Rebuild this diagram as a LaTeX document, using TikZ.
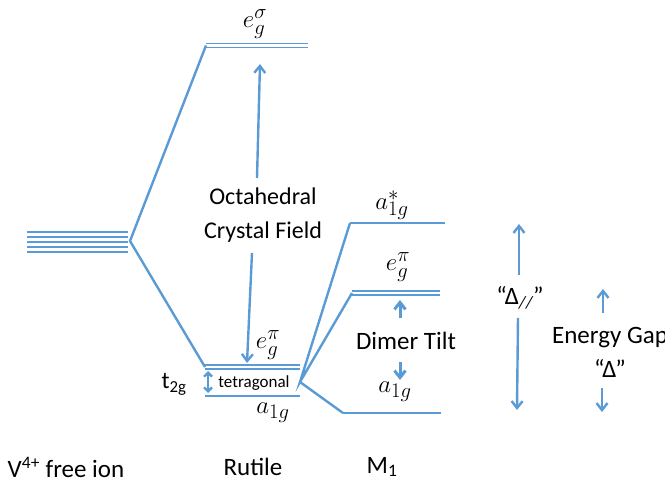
\documentclass[tikz,border=0pt]{standalone}
\usepackage{fontspec}
\setmainfont{Carlito}
\usetikzlibrary{arrows.meta, positioning, calc}
\definecolor{lvlBlue}{HTML}{5B9BD5}

\begin{document}
\begin{tikzpicture}[x=1pt, y=-1pt,
    lvl/.style={lvlBlue, line width=2.4pt},
    thinlvl/.style={lvlBlue, line width=1.7pt},
    arr/.style={lvlBlue, line width=2.4pt, -{Straight Barb[length=7pt, width=11pt]}},
    lbl/.style={font=\fontsize{25}{34}\selectfont, align=center, inner sep=1pt},
    mlbl/.style={font=\fontsize{29}{30}\selectfont, inner sep=1pt},
  ]
    \useasboundingbox (0,0) rectangle (665,489);

    % free ion levels
    \foreach \yy in {232,237,242,247,252}
      \draw[thinlvl] (27,\yy) -- (128,\yy);
    \coordinate (ion) at (130,241);

    % rutile levels
    \coordinate (egsL) at (206,45.5);
    \coordinate (egsR) at (308,45.5);
    \coordinate (egpL) at (205,367);
    \coordinate (egpR) at (300,367);
    \coordinate (a1L) at (205,396);
    \coordinate (a1R) at (300,396);
    \coordinate (rut) at (300,382);
    \draw[thinlvl] ($(egsL)+(0,-1.9)$) -- ($(egsR)+(0,-1.9)$);
    \draw[thinlvl] ($(egsL)+(0,1.9)$) -- ($(egsR)+(0,1.9)$);
    \draw[thinlvl] ($(egpL)+(0,-1.9)$) -- ($(egpR)+(0,-1.9)$);
    \draw[thinlvl] ($(egpL)+(0,1.9)$) -- ($(egpR)+(0,1.9)$);
    \draw[lvl] (a1L) -- (a1R);
    \draw[lvl] (egsL) -- (ion) -- (egpL);

    % M1 levels
    \coordinate (asL) at (350,223);
    \coordinate (asR) at (445,223);
    \coordinate (mpL) at (352,293);
    \coordinate (mpR) at (440,293);
    \coordinate (maL) at (343,413);
    \coordinate (maR) at (441,413);
    \draw[lvl] (asL) -- (asR);
    \draw[thinlvl] ($(mpL)+(0,-1.9)$) -- ($(mpR)+(0,-1.9)$);
    \draw[thinlvl] ($(mpL)+(0,1.9)$) -- ($(mpR)+(0,1.9)$);
    \draw[lvl] (maL) -- (maR);
    \draw[lvl] (asL) -- (rut) -- (mpL);
    \draw[lvl] (rut) -- (maL);

    % level labels
    \node[mlbl] (egs) at (255,24) {$e_g^{\sigma}$};
    \node[mlbl] (egp) at (268,345) {$e_g^{\pi}$};
    \node[mlbl] (a1) at (273,413) {$a_{1g}$};
    \node[font=\fontsize{24}{26}\selectfont, inner sep=1pt] (t2g) at (174,384) {t\textsubscript{2g}};
    \node[font=\fontsize{17}{19}\selectfont, inner sep=1pt] (tet) at (254,383) {tetragonal};
    \node[mlbl] (as) at (392,205) {$a_{1g}^{*}$};
    \node[mlbl] (mp) at (398,267) {$e_g^{\pi}$};
    \node[mlbl] (ma) at (395,392) {$a_{1g}$};

    % octahedral crystal field
    \node[lbl, font=\fontsize{24}{34}\selectfont] (ocf) at (263,215) {Octahedral\\Crystal Field};
    \draw[arr] (257,178) -- (260,64);
    \draw[arr] (252,253) -- (247,363);
    \draw[lvl, {Straight Barb[length=4pt, width=8pt]}-{Straight Barb[length=4pt, width=8pt]}] (208,371) -- (208,393);

    % dimer tilt
    \node[lbl] (dt) at (406,341) {Dimer Tilt};
    \draw[arr, line width=3pt] (400,318) -- (400,300);
    \draw[arr, line width=3pt] (400,362) -- (400,380);

    % Delta parallel
    \node[lbl] (dpar) at (520,298) {“Δ\textsubscript{\itshape //}”};
    \draw[arr] (519,275) -- (519,224);
    \draw[arr] (518,318) -- (517,410);

    % energy gap
    \node[lbl] (gap) at (610,352) {Energy Gap\\“Δ”};
    \draw[arr] (603,313) -- (603,289);
    \draw[arr] (602,388) -- (602,412);

    % bottom labels
    \node[lbl] (ionl) at (66,467) {V\textsuperscript{4+} free ion};
    \node[lbl] (rutl) at (253,467) {Rutile};
    \node[lbl] (m1l) at (382,467) {M\textsubscript{1}};
\end{tikzpicture}
\end{document}
